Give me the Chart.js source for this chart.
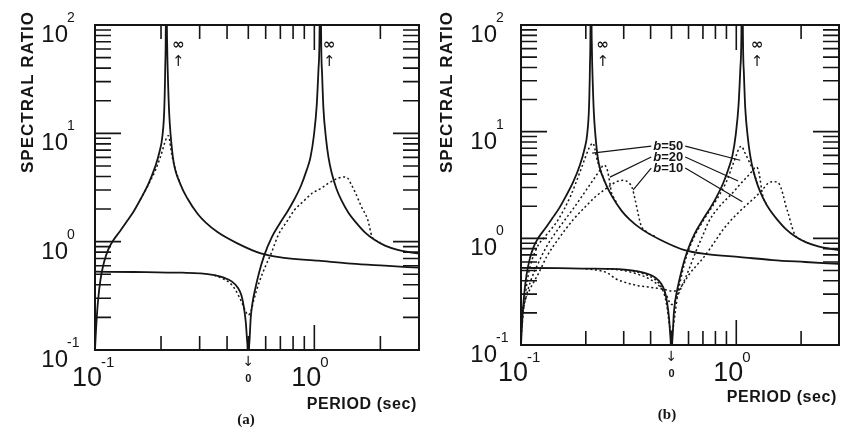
<!DOCTYPE html>
<html>
<head>
<meta charset="utf-8">
<script src="https://cdn.jsdelivr.net/npm/chart.js@4"></script>
<style>
  body { margin: 0; background: #fff; }
  #wrap { position: relative; width: 843px; height: 430px; background: #fff; }
  canvas { position: absolute; top: 0; }
  #chartA { left: 0; }
  #chartB { left: 421px; }
</style>
</head>
<body>
<div id="wrap">
  <canvas id="chartA" width="421" height="430"></canvas>
  <canvas id="chartB" width="422" height="430"></canvas>
</div>
<script>
// axis ticks (log scales)
const xMajorTicks = [0.1, 1];
const xTickExp = ["-1", "0"];
const xMinorTicks = [0.2, 0.3, 0.4, 0.5, 0.6, 0.7, 0.8, 0.9, 2];
const yMajorTicks = [0.1, 1, 10, 100];
const yTickExp = ["-1", "0", "1", "2"];
const yMinorTicks = [0.2, 0.3, 0.4, 0.5, 0.6, 0.7, 0.8, 0.9, 2, 3, 4, 5, 6, 7, 8, 9, 20, 30, 40, 50, 60, 70, 80, 90];

// solid curve 1 (resonance near 0.21 s)
const solid1Period = [0.1, 0.101, 0.103, 0.106, 0.11, 0.115, 0.12, 0.13, 0.14, 0.15, 0.161, 0.175, 0.188, 0.197, 0.203, 0.207, 0.209, 0.2105, 0.2115, 0.2125, 0.2135, 0.2155, 0.218, 0.221, 0.228, 0.245, 0.264, 0.294, 0.32, 0.363, 0.448, 0.57, 0.728, 1.043, 1.476, 2.09, 3.0];
const solid1Ratio = [0.1, 0.15, 0.27, 0.45, 0.65, 0.85, 1.0, 1.25, 1.55, 1.9, 2.45, 3.4, 4.9, 6.8, 9.5, 17, 40, 150, 10000, 150, 60, 28, 15, 9.9, 5.5, 3.4, 2.5, 1.8, 1.5, 1.22, 0.96, 0.78, 0.71, 0.667, 0.626, 0.6, 0.575];

// solid curve 2 (zero at 0.5 s, resonance near 1.07 s)
const solid2Period = [0.1, 0.15, 0.192, 0.25, 0.303, 0.35, 0.387, 0.42, 0.448, 0.465, 0.477, 0.487, 0.494, 0.4985, 0.5, 0.5015, 0.506, 0.513, 0.522, 0.535, 0.56, 0.59, 0.64, 0.7, 0.76, 0.81, 0.87, 0.92, 0.96, 0.995, 1.025, 1.045, 1.058, 1.065, 1.072, 1.085, 1.1, 1.13, 1.16, 1.2, 1.26, 1.33, 1.43, 1.55, 1.7, 1.88, 2.1, 2.4, 2.7, 3.0];
const solid2Ratio = [0.528, 0.525, 0.52, 0.517, 0.51, 0.49, 0.465, 0.43, 0.376, 0.32, 0.25, 0.18, 0.12, 0.05, 0.001, 0.05, 0.12, 0.2, 0.27, 0.35, 0.52, 0.74, 1.1, 1.5, 1.95, 2.45, 3.3, 4.5, 6.0, 9.5, 18, 40, 120, 10000, 120, 35, 17, 9.0, 6.0, 4.3, 3.1, 2.4, 1.85, 1.5, 1.22, 1.04, 0.92, 0.84, 0.8, 0.775];

// (a) dotted curves
const dotA1Period = [0.161, 0.175, 0.188, 0.2, 0.208, 0.213, 0.216, 0.219, 0.222, 0.226, 0.23, 0.245];
const dotA1Ratio = [2.45, 3.35, 4.5, 6.3, 8.2, 9.3, 9.5, 8.6, 7.0, 5.8, 5.0, 3.4];
const dotA2Period = [0.35, 0.387, 0.42, 0.44, 0.465, 0.485, 0.5, 0.515, 0.53, 0.56, 0.6, 0.635, 0.685, 0.76, 0.81, 0.9, 0.97, 1.07, 1.17, 1.28, 1.36, 1.42, 1.47, 1.53, 1.64, 1.75, 1.83, 1.9, 2.0];
const dotA2Ratio = [0.49, 0.45, 0.4, 0.35, 0.28, 0.23, 0.21, 0.23, 0.29, 0.42, 0.6, 0.775, 1.15, 1.6, 1.95, 2.4, 2.77, 3.1, 3.5, 3.85, 3.95, 3.85, 3.4, 2.9, 2.1, 1.6, 1.12, 1.03, 0.98];

// (b) dotted curves, damping b = 50, 20, 10
const b50Period1 = [0.1, 0.103, 0.108, 0.118, 0.13, 0.149, 0.17, 0.188, 0.2, 0.207, 0.212, 0.216, 0.22, 0.224, 0.228, 0.245];
const b50Ratio1 = [0.12, 0.22, 0.45, 0.8, 1.05, 1.5, 2.5, 4.2, 5.9, 7.0, 7.6, 7.8, 7.0, 5.8, 5.1, 3.4];
const b20Period1 = [0.1, 0.105, 0.11, 0.12, 0.132, 0.15, 0.175, 0.2, 0.22, 0.235, 0.241, 0.248, 0.253, 0.258, 0.263, 0.27, 0.28];
const b20Ratio1 = [0.17, 0.27, 0.38, 0.58, 0.85, 1.25, 1.9, 2.8, 3.7, 4.5, 4.85, 4.7, 4.2, 3.4, 2.7, 2.4, 2.1];
const b10Period1 = [0.1, 0.105, 0.113, 0.12, 0.132, 0.15, 0.175, 0.2, 0.221, 0.25, 0.274, 0.298, 0.315, 0.328, 0.339, 0.35, 0.362, 0.375, 0.395, 0.42];
const b10Ratio1 = [0.2, 0.27, 0.37, 0.46, 0.68, 1.0, 1.5, 2.0, 2.44, 2.95, 3.35, 3.5, 3.35, 3.0, 2.3, 1.7, 1.3, 1.2, 1.1, 1.04];

const b50Period2 = [0.3, 0.35, 0.387, 0.42, 0.448, 0.465, 0.478, 0.49, 0.5, 0.51, 0.52, 0.535, 0.56, 0.59, 0.64, 0.7, 0.81, 0.9, 0.96, 1.0, 1.03, 1.06, 1.09, 1.13, 1.16, 1.2, 1.26];
const b50Ratio2 = [0.51, 0.48, 0.45, 0.41, 0.35, 0.29, 0.22, 0.15, 0.13, 0.15, 0.2, 0.3, 0.47, 0.7, 1.05, 1.45, 2.3, 3.4, 4.8, 6.0, 7.0, 7.3, 6.5, 5.6, 5.0, 4.3, 3.1];
const b20Period2 = [0.25, 0.3, 0.35, 0.4, 0.45, 0.475, 0.49, 0.5, 0.515, 0.53, 0.56, 0.6, 0.645, 0.717, 0.74, 0.82, 0.96, 1.04, 1.14, 1.2, 1.226, 1.26, 1.29, 1.31, 1.335, 1.38];
const b20Ratio2 = [0.517, 0.5, 0.46, 0.41, 0.34, 0.29, 0.25, 0.24, 0.25, 0.28, 0.36, 0.5, 0.73, 1.2, 1.4, 1.9, 2.66, 3.2, 3.9, 4.4, 4.65, 4.5, 3.6, 2.9, 2.4, 2.1];
const b10Period2 = [0.2, 0.23, 0.254, 0.274, 0.3, 0.35, 0.39, 0.43, 0.47, 0.5, 0.53, 0.56, 0.6, 0.65, 0.7, 0.78, 0.88, 1.01, 1.1, 1.226, 1.33, 1.41, 1.49, 1.56, 1.61, 1.655, 1.7, 1.746, 1.8, 1.87, 1.95, 2.16];
const b10Ratio2 = [0.517, 0.5, 0.47, 0.42, 0.39, 0.36, 0.35, 0.34, 0.33, 0.32, 0.32, 0.36, 0.45, 0.55, 0.65, 0.88, 1.25, 1.7, 2.0, 2.44, 2.9, 3.3, 3.4, 3.35, 3.0, 2.5, 2.0, 1.7, 1.35, 1.08, 1.0, 0.9];

// b labels and their leader line ends (period, ratio)
const bNames = ["50", "20", "10"];
const bLabelPeriod = 0.483;
const bLabelRatio = [7.33, 5.78, 4.56];
const bLeftEnd = [[0.214, 6.3], [0.259, 3.75], [0.332, 2.84]];
const bRightEnd = [[1.043, 5.4], [1.02, 3.45], [1.067, 2.2]];

const ink = "#151515";
const sans = '"Liberation Sans", Arial, sans-serif';

function pts(px, py) {
    return px.map((p, i) => ({ x: p, y: py[i] }));
}
function solidLine(px, py) {
    return { data: pts(px, py), borderColor: ink, borderWidth: 1.8, pointRadius: 0,
        cubicInterpolationMode: "monotone", fill: false };
}
function dottedLine(px, py) {
    return { data: pts(px, py), borderColor: ink, borderWidth: 1.5, borderDash: [2, 2.6],
        pointRadius: 0, cubicInterpolationMode: "monotone", fill: false };
}

function powLabel(ctx, x, baseY, exp, size, expSize, rise, align) {
    ctx.font = size + "px " + sans;
    const w = ctx.measureText("10").width;
    const left = align === "right" ? x - w : x - w / 2;
    ctx.textAlign = "left";
    ctx.textBaseline = "alphabetic";
    ctx.fillText("10", left, baseY);
    ctx.font = expSize + "px " + sans;
    ctx.fillText(exp, left + w - 1, baseY - rise);
}

const paperAxes = {
    id: "paperAxes",
    afterDraw(chart, args, o) {
        const { ctx, chartArea: a } = chart;
        const xs = chart.scales.x, ys = chart.scales.y;
        ctx.save();
        ctx.strokeStyle = ink;
        ctx.fillStyle = ink;
        ctx.lineWidth = 2;
        ctx.strokeRect(a.left, a.top, a.right - a.left, a.bottom - a.top);

        // inward ticks on all four sides
        ctx.lineWidth = 1.6;
        ctx.beginPath();
        const xTick = (v, len) => {
            const px = xs.getPixelForValue(v);
            ctx.moveTo(px, a.bottom); ctx.lineTo(px, a.bottom - len);
            ctx.moveTo(px, a.top); ctx.lineTo(px, a.top + len);
        };
        const yTick = (v, len) => {
            const py = ys.getPixelForValue(v);
            ctx.moveTo(a.left, py); ctx.lineTo(a.left + len, py);
            ctx.moveTo(a.right, py); ctx.lineTo(a.right - len, py);
        };
        xMinorTicks.forEach(v => xTick(v, 14));
        xMajorTicks.forEach(v => xTick(v, 25));
        yMinorTicks.forEach(v => yTick(v, 16));
        yMajorTicks.forEach(v => yTick(v, 26));
        ctx.stroke();

        // tick labels
        yMajorTicks.forEach((v, i) => {
            const py = ys.getPixelForValue(v);
            powLabel(ctx, a.left - o.yGap, py + 17, yTickExp[i], 24, 14, 20, "right");
        });
        xMajorTicks.forEach((v, i) => {
            const px = xs.getPixelForValue(v);
            powLabel(ctx, px - 8, a.bottom + 36, xTickExp[i], 27, 15, 19, "center");
        });

        // axis titles
        ctx.font = "bold 17px " + sans;
        ctx.letterSpacing = "1px";
        ctx.save();
        ctx.translate(o.titleX, 92);
        ctx.rotate(-Math.PI / 2);
        ctx.textAlign = "center";
        ctx.textBaseline = "middle";
        ctx.fillText("SPECTRAL RATIO", 0, 0);
        ctx.restore();
        ctx.font = "bold 16px " + sans;
        ctx.letterSpacing = "0.6px";
        ctx.textAlign = "right";
        ctx.textBaseline = "middle";
        ctx.fillText("PERIOD (sec)", a.right - 2, a.bottom + o.periodDy);
        ctx.letterSpacing = "0px";
        ctx.font = 'bold 15px "Liberation Serif", "Times New Roman", serif';
        ctx.textAlign = "center";
        ctx.fillText(o.tag, a.left + o.tagDx, a.bottom + 70);

        // infinity markers above the resonances
        o.infPeriods.forEach(p => {
            const px = xs.getPixelForValue(p);
            ctx.font = 'bold 15px "DejaVu Sans", sans-serif';
            ctx.fillText("\u221E", px, a.top + 20);
            ctx.font = '15px "DejaVu Sans", sans-serif';
            ctx.fillText("\u2191", px, a.top + 37);
        });
        // zero marker below the dip
        const zx = xs.getPixelForValue(o.zeroPeriod);
        ctx.font = '14px "DejaVu Sans", sans-serif';
        ctx.fillText("\u2193", zx, a.bottom + 12);
        ctx.font = "bold 11px " + sans;
        ctx.fillText("0", zx, a.bottom + 29);

        // b labels with leader lines
        if (o.bLabels) {
            const lx = xs.getPixelForValue(bLabelPeriod);
            ctx.lineWidth = 1.2;
            bNames.forEach((name, i) => {
                const ly = ys.getPixelForValue(bLabelRatio[i]);
                ctx.font = "italic bold 13px " + sans;
                const wb = ctx.measureText("b").width;
                ctx.font = "bold 13px " + sans;
                const wr = ctx.measureText("=" + name).width;
                const left = lx - (wb + wr) / 2;
                ctx.textAlign = "left";
                ctx.font = "italic bold 13px " + sans;
                ctx.fillText("b", left, ly);
                ctx.font = "bold 13px " + sans;
                ctx.fillText("=" + name, left + wb, ly);
                ctx.beginPath();
                ctx.moveTo(left - 2, ly);
                ctx.lineTo(xs.getPixelForValue(bLeftEnd[i][0]), ys.getPixelForValue(bLeftEnd[i][1]));
                ctx.moveTo(left + wb + wr + 2, ly);
                ctx.lineTo(xs.getPixelForValue(bRightEnd[i][0]), ys.getPixelForValue(bRightEnd[i][1]));
                ctx.stroke();
            });
        }
        ctx.restore();
    }
};

function makeChart(id, datasets, padding, axesOpts) {
    return new Chart(document.getElementById(id).getContext("2d"), {
        type: "line",
        data: { datasets: datasets },
        options: {
            responsive: false,
            animation: false,
            layout: { padding: padding },
            plugins: { legend: { display: false }, tooltip: { enabled: false }, paperAxes: axesOpts },
            scales: {
                x: { type: "logarithmic", min: 0.1, max: 3, display: false },
                y: { type: "logarithmic", min: 0.1, max: 100, display: false }
            }
        },
        plugins: [paperAxes]
    });
}

document.addEventListener("DOMContentLoaded", () => {
    makeChart("chartA", [
        dottedLine(dotA1Period, dotA1Ratio),
        dottedLine(dotA2Period, dotA2Ratio),
        solidLine(solid1Period, solid1Ratio),
        solidLine(solid2Period, solid2Ratio)
    ], { left: 95, right: 2, top: 25, bottom: 80 },
    { yGap: 27, titleX: 28, periodDy: 55, tag: "(a)", tagDx: 151, infPeriods: [0.24, 1.17], zeroPeriod: 0.5, bLabels: false });

    makeChart("chartB", [
        dottedLine(b50Period1, b50Ratio1),
        dottedLine(b20Period1, b20Ratio1),
        dottedLine(b10Period1, b10Ratio1),
        dottedLine(b50Period2, b50Ratio2),
        dottedLine(b20Period2, b20Ratio2),
        dottedLine(b10Period2, b10Ratio2),
        solidLine(solid1Period, solid1Ratio),
        solidLine(solid2Period, solid2Ratio)
    ], { left: 100, right: 4, top: 25, bottom: 85 },
    { yGap: 24, titleX: 26, periodDy: 53, tag: "(b)", tagDx: 146, infPeriods: [0.24, 1.25], zeroPeriod: 0.5, bLabels: true });
});
</script>
</body>
</html>
